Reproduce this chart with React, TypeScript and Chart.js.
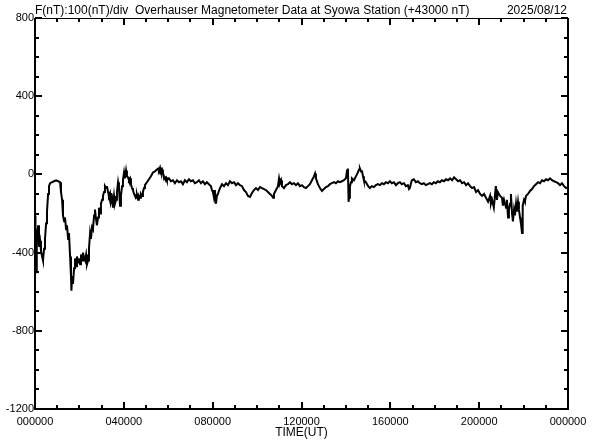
import React, { useEffect, useRef } from "react";
import { Chart, registerables } from "chart.js";

Chart.register(...registerables);

const TITLE_LEFT = "F(nT):100(nT)/div  Overhauser Magnetometer Data at Syowa Station (+43000 nT)";
const TITLE_RIGHT = "2025/08/12";
const X_TITLE = "TIME(UT)";

const X_TICK_VALUES = [0, 4, 8, 12, 16, 20, 24];
const X_TICK_LABELS = ["000000", "040000", "080000", "120000", "160000", "200000", "000000"];
const Y_TICK_VALUES = [800, 400, 0, -400, -800, -1200];
const Y_TICK_LABELS = ["800", "400", "0", "-400", "-800", "-1200"];

// time in hours (UT)
const timesH = [
  0.00, 0.02, 0.05, 0.07, 0.09, 0.14, 0.18, 0.23, 0.27, 0.32, 0.36, 0.41, 0.45, 0.50, 0.54, 0.59, 0.63, 0.68, 0.77, 0.86,
  0.95, 1.04, 1.13, 1.17, 1.22, 1.26, 1.31, 1.35, 1.40, 1.44, 1.49, 1.53, 1.58, 1.62, 1.64, 1.67, 1.71, 1.76, 1.80, 1.85,
  1.89, 1.94, 1.98, 2.03, 2.07, 2.12, 2.16, 2.21, 2.25, 2.30, 2.34, 2.39, 2.43, 2.48, 2.52, 2.57, 2.61, 2.66, 2.70, 2.75,
  2.79, 2.84, 2.88, 2.93, 2.97, 3.02, 3.06, 3.11, 3.15, 3.20, 3.24, 3.29, 3.33, 3.38, 3.42, 3.47, 3.51, 3.56, 3.60, 3.65,
  3.69, 3.74, 3.78, 3.83, 3.87, 3.92, 3.96, 4.01, 4.05, 4.10, 4.14, 4.19, 4.23, 4.28, 4.32, 4.37, 4.41, 4.46, 4.50, 4.55,
  4.59, 4.64, 4.68, 4.73, 4.77, 4.82, 4.86, 4.91, 4.95, 5.04, 5.13, 5.22, 5.31, 5.40, 5.49, 5.54, 5.58, 5.63, 5.67, 5.72,
  5.76, 5.81, 5.85, 5.90, 5.94, 6.03, 6.12, 6.21, 6.30, 6.39, 6.48, 6.57, 6.66, 6.75, 6.84, 6.93, 7.02, 7.11, 7.20, 7.29,
  7.38, 7.47, 7.56, 7.65, 7.74, 7.83, 7.92, 7.97, 8.01, 8.06, 8.10, 8.15, 8.19, 8.24, 8.28, 8.33, 8.42, 8.51, 8.60, 8.69,
  8.78, 8.87, 8.96, 9.05, 9.14, 9.23, 9.32, 9.41, 9.50, 9.59, 9.68, 9.77, 9.86, 9.95, 10.04, 10.13, 10.22, 10.31, 10.40, 10.49,
  10.58, 10.67, 10.72, 10.76, 10.85, 10.94, 10.99, 11.03, 11.08, 11.12, 11.21, 11.30, 11.39, 11.48, 11.57, 11.66, 11.75, 11.84, 11.93, 12.02,
  12.11, 12.20, 12.29, 12.38, 12.47, 12.56, 12.61, 12.65, 12.74, 12.83, 12.92, 13.01, 13.10, 13.19, 13.28, 13.37, 13.46, 13.55, 13.64, 13.73,
  13.82, 13.91, 14.00, 14.05, 14.09, 14.12, 14.14, 14.18, 14.23, 14.27, 14.36, 14.45, 14.54, 14.59, 14.63, 14.68, 14.72, 14.77, 14.81, 14.90,
  15.00, 15.08, 15.17, 15.26, 15.35, 15.44, 15.53, 15.62, 15.71, 15.80, 15.89, 15.98, 16.07, 16.16, 16.25, 16.34, 16.43, 16.52, 16.61, 16.70,
  16.79, 16.84, 16.88, 16.93, 16.97, 17.06, 17.15, 17.24, 17.33, 17.42, 17.51, 17.60, 17.69, 17.78, 17.87, 17.96, 18.05, 18.14, 18.23, 18.32,
  18.42, 18.51, 18.60, 18.69, 18.78, 18.87, 18.96, 19.05, 19.14, 19.23, 19.32, 19.41, 19.50, 19.59, 19.68, 19.77, 19.86, 19.95, 20.04, 20.13,
  20.22, 20.31, 20.40, 20.49, 20.53, 20.58, 20.66, 20.71, 20.75, 20.80, 20.84, 20.94, 21.03, 21.07, 21.12, 21.21, 21.25, 21.30, 21.34, 21.39,
  21.43, 21.48, 21.52, 21.57, 21.61, 21.66, 21.70, 21.75, 21.79, 21.84, 21.88, 21.93, 21.95, 21.97, 22.02, 22.06, 22.11, 22.20, 22.29, 22.38,
  22.47, 22.56, 22.65, 22.74, 22.83, 22.92, 23.01, 23.10, 23.19, 23.28, 23.37, 23.46, 23.55, 23.64, 23.73, 23.82, 23.91, 24.00,
];

// F - 43000 nT
const valuesNT = [
  -210, -420, -500, -280, -330, -260, -370, -340, -390, -420, -440, -380, -330, -250, -190, -100, -60, -45, -40, -35,
  -30, -35, -40, -90, -130, -210, -240, -220, -280, -260, -330, -300, -420, -520, -595, -520, -560, -480, -430, -470,
  -420, -450, -430, -460, -410, -440, -400, -430, -440, -410, -460, -440, -380, -300, -330, -270, -280, -210, -180, -230,
  -260, -220, -170, -200, -150, -130, -110, -90, -60, -70, -60, -90, -110, -95, -140, -120, -170, -110, -150, -130,
  -90, -40, -70, -160, -110, -60, -30, 10, -20, 20, -10, -15, -30, -20, -50, -70, -80, -100, -110, -120,
  -105, -130, -110, -120, -100, -110, -90, -70, -55, -40, -25, -10, 10, 15, 25, 30, 20, 35, 15, 25,
  5, -10, -20, -15, -30, -20, -35, -30, -45, -30, -40, -35, -50, -30, -40, -25, -35, -30, -45, -40,
  -30, -45, -35, -50, -40, -50, -60, -80, -90, -120, -80, -150, -110, -100, -85, -70, -50, -60, -45, -55,
  -35, -45, -40, -55, -45, -55, -60, -80, -90, -110, -115, -95, -80, -70, -80, -65, -70, -75, -80, -90,
  -100, -110, -120, -100, -80, -60, -20, -45, -30, -60, -70, -55, -50, -40, -50, -45, -55, -45, -60, -55,
  -65, -70, -60, -50, -30, -10, 5, -20, -50, -70, -85, -75, -65, -60, -50, -45, -40, -45, -35, -40,
  -35, -30, -20, 20, 30, -140, -120, -60, -40, -20, -30, -10, 10, 25, 30, 15, 20, -10, -30, -40,
  -60, -70, -60, -65, -55, -50, -55, -45, -50, -40, -45, -35, -45, -40, -55, -45, -40, -50, -45, -60,
  -55, -75, -70, -45, -30, -25, -40, -35, -45, -50, -45, -55, -50, -45, -50, -40, -45, -35, -40, -30,
  -35, -25, -30, -20, -30, -15, -25, -35, -30, -45, -40, -55, -45, -60, -70, -65, -90, -80, -100, -110,
  -100, -120, -140, -110, -150, -130, -170, -110, -60, -130, -90, -110, -120, -160, -130, -170, -130, -220, -180, -150,
  -100, -200, -240, -180, -210, -150, -190, -140, -180, -220, -250, -300, -200, -160, -130, -140, -110, -100, -85, -75,
  -60, -50, -40, -45, -30, -35, -25, -30, -20, -30, -35, -40, -45, -55, -45, -60, -70, -65,
];

const framePlugin = {
  id: "frame",
  afterDraw(chart: any) {
    const { ctx, chartArea, scales } = chart;
    const { left, right, top, bottom } = chartArea;
    const xs = scales.x;
    const ys = scales.y;
    ctx.save();
    ctx.strokeStyle = "#000";
    ctx.fillStyle = "#000";

    // frame
    ctx.lineWidth = 2;
    ctx.beginPath();
    ctx.moveTo(left, top);
    ctx.lineTo(left, bottom);
    ctx.lineTo(right, bottom);
    ctx.lineTo(right, top);
    ctx.stroke();
    ctx.lineWidth = 1;
    ctx.beginPath();
    ctx.moveTo(left, top + 0.5);
    ctx.lineTo(right, top + 0.5);
    ctx.stroke();

    // x ticks (hourly minor, 4h major), pointing inward
    ctx.lineWidth = 2;
    for (let h = 0; h <= 24; h++) {
      const px = Math.round(xs.getPixelForValue(h));
      const len = h % 4 === 0 ? 7 : 4;
      ctx.beginPath();
      ctx.moveTo(px, bottom);
      ctx.lineTo(px, bottom - len);
      ctx.moveTo(px, top);
      ctx.lineTo(px, top + len);
      ctx.stroke();
    }
    // y ticks (100 minor, 400 major)
    for (let v = -1200; v <= 800; v += 100) {
      const py = Math.round(ys.getPixelForValue(v));
      const len = v % 400 === 0 ? 7 : 4;
      ctx.beginPath();
      ctx.moveTo(left, py);
      ctx.lineTo(left + len, py);
      ctx.moveTo(right, py);
      ctx.lineTo(right - len, py);
      ctx.stroke();
    }

    // tick labels
    ctx.font = "11px 'Liberation Sans', Arial, sans-serif";
    ctx.textAlign = "right";
    ctx.textBaseline = "middle";
    Y_TICK_VALUES.forEach((v, i) => {
      ctx.fillText(Y_TICK_LABELS[i], left - 1, ys.getPixelForValue(v));
    });
    ctx.textAlign = "center";
    ctx.textBaseline = "top";
    X_TICK_VALUES.forEach((h, i) => {
      ctx.fillText(X_TICK_LABELS[i], xs.getPixelForValue(h), bottom + 7);
    });

    // titles
    ctx.font = "12px 'Liberation Sans', Arial, sans-serif";
    ctx.textBaseline = "alphabetic";
    ctx.textAlign = "center";
    ctx.fillText(X_TITLE, (left + right) / 2, 436);
    ctx.textAlign = "left";
    ctx.fillText(TITLE_LEFT, left, 14);
    ctx.textAlign = "right";
    ctx.fillText(TITLE_RIGHT, right - 1, 14);
    ctx.restore();
  },
};

export default function App() {
  const ref = useRef<HTMLCanvasElement | null>(null);
  useEffect(() => {
    document.body.style.margin = "0";
    const canvas = ref.current;
    if (!canvas) return;
    const chart = new Chart(canvas, {
      type: "line",
      data: {
        datasets: [
          {
            data: timesH.map((t, i) => ({ x: t, y: valuesNT[i] })),
            borderColor: "#000",
            borderWidth: 2,
            pointRadius: 0,
            tension: 0,
            fill: false,
          },
        ],
      },
      options: {
        animation: false,
        responsive: false,
        devicePixelRatio: 1,
        layout: { padding: { left: 35, right: 24, top: 18, bottom: 31 } },
        plugins: { legend: { display: false }, tooltip: { enabled: false } },
        scales: {
          x: { type: "linear", min: 0, max: 24, display: false },
          y: { type: "linear", min: -1200, max: 800, display: false },
        },
      },
      plugins: [framePlugin],
    });
    return () => chart.destroy();
  }, []);
  return (
    <div style={{ width: 592, height: 440, background: "#fff" }}>
      <canvas ref={ref} width={592} height={440} />
    </div>
  );
}
